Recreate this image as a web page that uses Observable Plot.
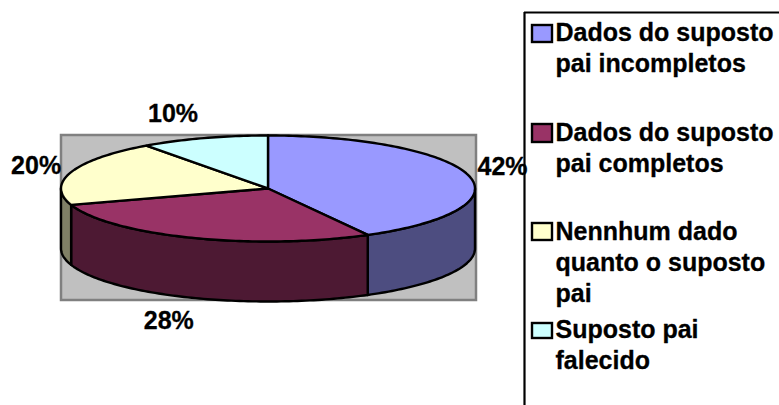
<!DOCTYPE html>
<html lang="pt">
<head>
<meta charset="utf-8">
<title>Dados do suposto pai</title>
<script src="https://cdn.jsdelivr.net/npm/d3@7"></script>
<script src="https://cdn.jsdelivr.net/npm/@observablehq/plot@0.6"></script>
<style>
  html, body { margin: 0; padding: 0; background: #fff; }
  svg { display: block; }
</style>
</head>
<body>
<div id="chart"></div>
<script>
// Shares of each category, in percent
const categories = [
  "Dados do suposto\npai incompletos",
  "Dados do suposto\npai completos",
  "Nennhum dado\nquanto o suposto\npai",
  "Suposto pai\nfalecido"
];
const values = [42, 28, 20, 10];
const topColors = ["#9999ff", "#993366", "#ffffcc", "#ccffff"];
const wallColors = ["#4d4d80", "#4d1933", "#808066", "#668080"];

// Tilted pie geometry on the page grid
const pie = {cx: 267.5, cy: 188, rx: 207, ry: 53, depth: 60};
const font = {fontFamily: "'Liberation Sans', Arial, sans-serif", fontWeight: "bold"};

// Where a given angle (radians clockwise from 12 o'clock) falls on the rim
const rim = (a, drop = 0) => ({
  x: pie.cx + pie.rx * Math.sin(a),
  y: pie.cy - pie.ry * Math.cos(a) + drop
});
const arc = (a0, a1, drop = 0) => {
  const n = Math.max(2, Math.ceil((a1 - a0) / 0.02));
  return d3.range(n + 1).map((i) => rim(a0 + (a1 - a0) * i / n, drop));
};

// Cumulative start and end angle of each slice
const total = d3.sum(values);
let running = 0;
const slices = values.map((v, i) => {
  const a0 = running / total * 2 * Math.PI;
  running += v;
  return {category: categories[i], value: v, a0, a1: running / total * 2 * Math.PI, wall: wallColors[i]};
});

// Upper face of a slice: centre, along the rim, back to the centre
const facePath = (s) => {
  const centre = {x: pie.cx, y: pie.cy};
  return [centre, ...arc(s.a0, s.a1), centre].map((p) => ({...p, category: s.category}));
};

// Outer wall of a slice: only the part of the rim that faces the viewer
const wallPath = (s) => {
  const a0 = Math.max(s.a0, Math.PI / 2);
  const a1 = Math.min(s.a1, 3 * Math.PI / 2);
  if (a1 <= a0) return null;
  const upper = arc(a0, a1);
  return [...upper, ...arc(a0, a1, pie.depth).reverse(), upper[0]];
};

// Percent labels sit just off the rim at the middle of each slice
const labelNudge = [[34, -8], [-23, 23 + pie.depth], [-35, -6], [-31, -24]];
const labels = slices.map((s, i) => {
  const p = rim((s.a0 + s.a1) / 2);
  return {x: p.x + labelNudge[i][0], y: p.y + labelNudge[i][1], text: `${s.value}%`};
});

// Legend rows: top of the text block and of the swatch
const legendRows = [
  {textTop: 18, swatchTop: 25, swatchH: 17},
  {textTop: 118, swatchTop: 124, swatchH: 18},
  {textTop: 217, swatchTop: 223, swatchH: 17},
  {textTop: 315, swatchTop: 323, swatchH: 15}
].map((r, i) => ({...r, category: categories[i]}));

const chart = Plot.plot({
  width: 779,
  height: 405,
  margin: 0,
  style: {background: "#fff", overflow: "hidden"},
  x: {domain: [0, 779], range: [0, 779], axis: null},
  y: {domain: [0, 405], range: [0, 405], axis: null},
  color: {type: "ordinal", domain: categories, range: topColors},
  marks: [
    // Plot area behind the pie
    Plot.rect([{x1: 61, x2: 476, y1: 135, y2: 300}], {
      x1: "x1", x2: "x2", y1: "y1", y2: "y2",
      fill: "#c0c0c0", stroke: "#808080", strokeWidth: 2.5
    }),
    // Walls, then the upper faces
    ...slices.map((s) => wallPath(s)
      ? Plot.line(wallPath(s), {x: "x", y: "y", fill: s.wall, stroke: "#000", strokeWidth: 2.4, curve: "linear"})
      : null),
    ...slices.map((s) => Plot.line(facePath(s), {
      x: "x", y: "y", z: "category", fill: "category", stroke: "#000", strokeWidth: 2.4, curve: "linear"
    })),
    // Percent labels
    Plot.text(labels, {x: "x", y: "y", text: "text", fontSize: 25, fill: "#000", stroke: "#000", strokeWidth: 0.3, ...font}),
    // Legend frame, open towards the page edge
    Plot.ruleX([524], {y1: 12, y2: 405, stroke: "#000", strokeWidth: 2.2}),
    Plot.ruleY([12], {x1: 524, x2: 779, stroke: "#000", strokeWidth: 2.2}),
    // Legend swatches and text
    Plot.rect(legendRows, {
      x1: () => 532, x2: () => 552,
      y1: "swatchTop", y2: (d) => d.swatchTop + d.swatchH,
      fill: "category", stroke: "#000", strokeWidth: 2.4
    }),
    Plot.text(legendRows, {
      x: () => 555, y: "textTop", text: "category", textAnchor: "start", lineAnchor: "top",
      lineHeight: 1.24, fontSize: 25, fill: "#000", stroke: "#000", strokeWidth: 0.3, ...font
    })
  ]
});
document.getElementById("chart").append(chart);
</script>
</body>
</html>
